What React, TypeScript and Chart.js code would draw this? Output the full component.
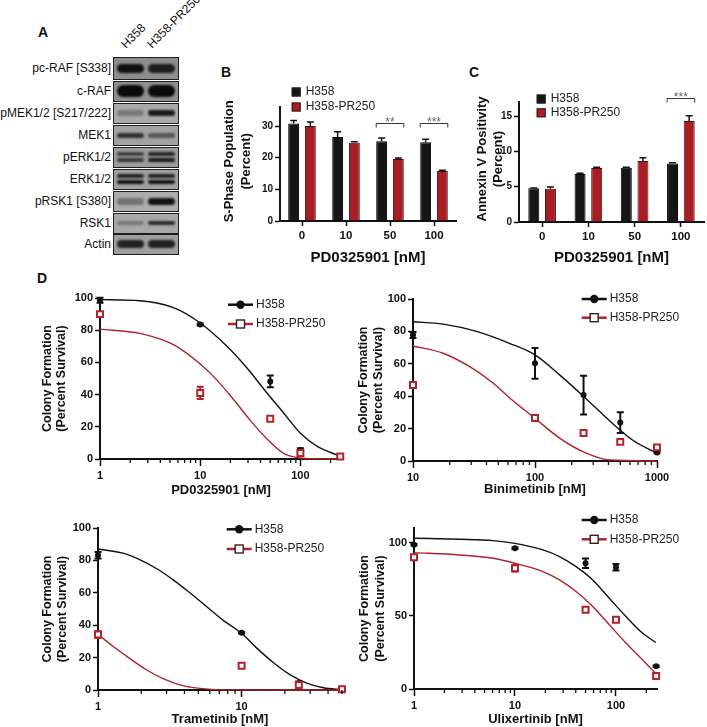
import React, { useEffect, useRef } from 'react';
import { Chart, registerables } from 'chart.js';

Chart.register(...registerables);

const FONT = '"Liberation Sans", Arial, Helvetica, sans-serif';
Chart.defaults.font.family = FONT;

// ================= DATA =================
const SERIES_NAMES = ['H358', 'H358-PR250'];

// Panel A – immunoblot, relative band intensity (0–1)
const blotTargets = ['pc-RAF [S338]', 'c-RAF', 'pMEK1/2 [S217/222]', 'MEK1', 'pERK1/2', 'ERK1/2', 'pRSK1 [S380]', 'RSK1', 'Actin'];
const blotH358 = [0.95, 1.0, 0.3, 0.75, 0.7, 0.95, 0.35, 0.3, 0.85];
const blotPR250 = [0.85, 1.0, 0.9, 0.5, 0.9, 0.95, 0.95, 0.8, 0.85];
const blotBandCount = [1, 1, 1, 1, 2, 2, 1, 1, 1];

// Panel B – S-phase population (%)
const doseLabels = ['0', '10', '50', '100'];
const sPhaseH358 = [30.8, 26.5, 25.2, 24.9];
const sPhaseH358Err = [0.9, 1.7, 1.0, 0.9];
const sPhasePR = [30.0, 24.7, 19.6, 15.8];
const sPhasePRErr = [1.3, 0.3, 0.3, 0.2];
const sPhaseSigIndex = [2, 3];
const sPhaseSigLevel = [31.1, 31.1];
const sPhaseSigText = ['**', '***'];

// Panel C – Annexin V positivity (%)
const annexinH358 = [4.77, 6.8, 7.7, 8.3];
const annexinH358Err = [0.05, 0.1, 0.05, 0.1];
const annexinPR = [4.7, 7.65, 8.65, 14.3];
const annexinPRErr = [0.25, 0.1, 0.45, 0.75];
const annexinSigIndex = [3];
const annexinSigLevel = [17.6];
const annexinSigText = ['***'];

// Panel D – colony formation (% survival)
const pdDoses = [1, 10, 50, 100, 250];
const pdH358 = [98.6, 83.5, 48.2, 5.6, 1.5];
const pdH358Err = [1.5, 0.6, 3.6, 1.0, 0.3];
const pdPR = [90, 41, 25, 3.7, 1.5];
const pdPRErr = [0.8, 3.8, 0.8, 1.5, 0.6];
const pdFitH358X = [1, 2.5, 5.4, 10, 18.5, 29.3, 46.4, 68, 100, 147, 250];
const pdFitH358Y = [99, 98.3, 94, 84.5, 70, 56.5, 41, 28.6, 16, 7.9, 1.7];
const pdFitPRX = [1, 2.5, 5.4, 10, 14.7, 21.5, 31.6, 46.4, 68, 100, 150, 250];
const pdFitPRY = [80.7, 78, 71, 59, 49, 37, 24, 12.5, 3.5, 0.6, 0.1, 0];
const pdTicks = [1, 2, 3, 4, 5, 6, 7, 8, 9, 10, 20, 30, 40, 50, 60, 70, 80, 90, 100, 200];
const pdTickLabels = [1, 10, 100];

const biniDoses = [10, 100, 250, 500, 1000];
const biniH358 = [77.8, 60.3, 40.7, 23.7, 5.3];
const biniH358Err = [1.8, 9.5, 12, 6.4, 0.5];
const biniPR = [46.9, 26.5, 17.3, 11.8, 8.4];
const biniPRErr = [0.5, 0.8, 1.3, 0.8, 1.0];
const biniFitH358X = [10, 17.7, 33.1, 62.4, 100, 160, 266, 413, 643, 1000];
const biniFitH358Y = [86, 84.5, 80, 72.5, 65.5, 53, 38, 24.5, 12.5, 4.8];
const biniFitPRX = [10, 17.7, 29.2, 45.5, 62.4, 100, 160, 266, 413, 1000];
const biniFitPRY = [71, 66.5, 58.2, 48, 38.7, 26.3, 14, 4.7, 0.6, 0];
const biniTicks = [10, 20, 30, 40, 50, 60, 70, 80, 90, 100, 200, 300, 400, 500, 600, 700, 800, 900, 1000];
const biniTickLabels = [10, 100, 1000];

const tramDoses = [1, 10, 25, 50];
const tramH358 = [83.2, 35.3, 4.2, 0.5];
const tramH358Err = [2, 0.5, 1, 0.2];
const tramPR = [34.3, 15, 3.1, 0.5];
const tramPRErr = [2, 0.5, 1.2, 0.3];
const tramFitH358X = [1, 1.49, 1.95, 2.55, 3.34, 4.36, 5.7, 7.45, 10, 12.7, 16.6, 21.7, 28.4, 37.1, 50];
const tramFitH358Y = [87, 84.5, 80.5, 75, 68, 60, 51.5, 43, 35, 26, 17, 9.5, 4.3, 1.4, 0.2];
const tramFitPRX = [1, 1.27, 1.66, 2.17, 2.84, 3.71, 5.12, 7.45, 20, 50];
const tramFitPRY = [34.3, 27, 19.5, 12.5, 7, 3.2, 1, 0.1, 0, 0];
const tramTicks = [1, 2, 3, 4, 5, 6, 7, 8, 9, 10, 20, 30, 40, 50];
const tramTickLabels = [1, 10];

const ulixDoses = [1, 10, 50, 100, 250];
const ulixH358 = [98.6, 96.1, 85.9, 83.2, 15.5];
const ulixH358Err = [0.5, 0.5, 3.3, 2.2, 0.5];
const ulixPR = [90, 82.5, 54.1, 47.3, 8.9];
const ulixPRErr = [0.8, 2.2, 0.6, 0.5, 0.5];
const ulixFitX = [1, 2.84, 6.07, 10, 18.9, 27.6, 40.3, 58.9, 86, 125.6, 183, 248];
const ulixFitH358Y = [103, 102.3, 101.4, 99.5, 95, 90.5, 83.6, 74.5, 62, 49.5, 38.2, 31.8];
const ulixFitPRY = [93.2, 91.6, 89.3, 85.9, 80.2, 74.5, 66.6, 56.4, 43.9, 31.4, 20, 10.5];
const ulixTicks = [1, 2, 3, 4, 5, 6, 7, 8, 9, 10, 20, 30, 40, 50, 60, 70, 80, 90, 100, 200];
const ulixTickLabels = [1, 10, 100];

// ================= STYLE / LAYOUT =================
const INK = '#111';
const RED = '#b0232a';
const BAR_BLACK = '#161616';
const BAR_RED = '#a81e24';

const BLOT_LEFT = 113;
const BLOT_W = 66;
const BLOT_TOPS = [57, 81, 103, 125, 147, 169, 191, 213, 234];
const BLOT_HS = [23, 21, 21, 21, 21, 21, 21, 21, 21];
const BLOT_BG = ['#8d8d8d', '#8f8f8f', '#a9a9a9', '#a2a2a2', '#9c9c9c', '#a0a0a0', '#acacac', '#a8a8a8', '#9f9f9f'];
const BAND_T = [9, 12, 6, 5, 4, 4, 7, 4, 8];

const GEO_B = { left: 221, top: 80, width: 239, height: 187, padTop: 27, padRight: 4, yWidth: 59, xHeight: 46 };
const GEO_C = { left: 474, top: 80, width: 233, height: 187, padTop: 22, padRight: 3, yWidth: 45, xHeight: 45 };
const GEO_D1 = { left: 40, top: 285, width: 310, height: 213, padTop: 13, padRight: 8, yWidth: 60, xHeight: 39 };
const GEO_D2 = { left: 356, top: 285, width: 351, height: 212, padTop: 14, padRight: 50, yWidth: 57, xHeight: 36 };
const GEO_D3 = { left: 40, top: 515, width: 312, height: 212, padTop: 13, padRight: 10, yWidth: 58, xHeight: 37 };
const GEO_D4 = { left: 357, top: 510, width: 350, height: 217, padTop: 18, padRight: 50, yWidth: 57, xHeight: 38 };

// ================= PLUGINS =================
const errorBarPlugin = {
  id: 'errorBars',
  beforeDatasetDraw(chart: any, args: any) {
    const ds = chart.data.datasets[args.index];
    if (!ds.errorValues || ds.errorStyle !== 'both') return;
    const ys = chart.scales.y;
    const ctx = chart.ctx;
    ctx.save();
    ctx.strokeStyle = ds.errorColor;
    ctx.lineWidth = 2;
    args.meta.data.forEach((pt: any, i: number) => {
      const e = ds.errorValues[i];
      if (!e) return;
      const v = ds.data[i].y;
      const y1 = ys.getPixelForValue(v + e);
      const y2 = ys.getPixelForValue(v - e);
      const x = pt.x;
      const cap = 3.5;
      ctx.beginPath();
      ctx.moveTo(x, y1); ctx.lineTo(x, y2);
      ctx.moveTo(x - cap, y1); ctx.lineTo(x + cap, y1);
      ctx.moveTo(x - cap, y2); ctx.lineTo(x + cap, y2);
      ctx.stroke();
    });
    ctx.restore();
  },
  afterDatasetDraw(chart: any, args: any) {
    const ds = chart.data.datasets[args.index];
    if (!ds.errorValues || ds.errorStyle !== 'up') return;
    const ys = chart.scales.y;
    const ctx = chart.ctx;
    ctx.save();
    ctx.strokeStyle = INK;
    ctx.lineWidth = 1.5;
    args.meta.data.forEach((bar: any, i: number) => {
      const e = ds.errorValues[i];
      if (!e) return;
      const v = ds.data[i];
      const y0 = ys.getPixelForValue(v);
      const y1 = ys.getPixelForValue(v + e);
      const cap = bar.width * 0.32;
      ctx.beginPath();
      ctx.moveTo(bar.x, y0); ctx.lineTo(bar.x, y1);
      ctx.moveTo(bar.x - cap, y1); ctx.lineTo(bar.x + cap, y1);
      ctx.stroke();
    });
    ctx.restore();
  },
};

function bracketPlugin(indices: number[], levels: number[], texts: string[]) {
  return {
    id: 'sigBrackets',
    afterDatasetsDraw(chart: any) {
      const ctx = chart.ctx;
      const ys = chart.scales.y;
      const m0 = chart.getDatasetMeta(0);
      const m1 = chart.getDatasetMeta(1);
      ctx.save();
      indices.forEach((idx, k) => {
        const b0 = m0.data[idx];
        const b1 = m1.data[idx];
        const xl = b0.x - b0.width / 2;
        const xr = b1.x + b1.width / 2;
        const y = Math.round(ys.getPixelForValue(levels[k])) + 0.5;
        ctx.strokeStyle = '#333';
        ctx.lineWidth = 1;
        ctx.beginPath();
        ctx.moveTo(xl, y + 4); ctx.lineTo(xl, y); ctx.lineTo(xr, y); ctx.lineTo(xr, y + 4);
        ctx.stroke();
        ctx.fillStyle = '#666';
        ctx.font = `12px ${FONT}`;
        ctx.textAlign = 'center';
        ctx.textBaseline = 'alphabetic';
        ctx.fillText(texts[k], (xl + xr) / 2, y + 2);
      });
      ctx.restore();
    },
  };
}

function legendPlugin(items: any[]) {
  return {
    id: 'seriesLegend',
    afterDraw(chart: any) {
      const { ctx, chartArea } = chart;
      ctx.save();
      items.forEach((it) => {
        const x = chartArea.left + it.dx;
        const y = chartArea.top + it.dy;
        let tx = x;
        if (it.kind === 'box') {
          ctx.fillStyle = it.color;
          ctx.fillRect(x, y - 4.5, 9, 9);
          ctx.strokeStyle = '#222';
          ctx.lineWidth = 1;
          ctx.strokeRect(x + 0.5, y - 4, 8, 8);
          tx = x + 14;
        } else {
          ctx.strokeStyle = it.color;
          ctx.lineWidth = 2.5;
          ctx.beginPath();
          ctx.moveTo(x, y); ctx.lineTo(x + 25, y);
          ctx.stroke();
          const mx = x + 12.5;
          if (it.marker === 'circle') {
            ctx.fillStyle = INK;
            ctx.beginPath();
            ctx.arc(mx, y, 4.2, 0, Math.PI * 2);
            ctx.fill();
          } else {
            ctx.fillStyle = '#fff';
            ctx.fillRect(mx - 4, y - 4, 8, 8);
            ctx.strokeStyle = '#3a1c1c';
            ctx.lineWidth = 1.4;
            ctx.strokeRect(mx - 4, y - 4, 8, 8);
          }
          tx = x + 28;
        }
        ctx.fillStyle = '#222';
        ctx.font = `12px ${FONT}`;
        ctx.textAlign = 'left';
        ctx.textBaseline = 'middle';
        ctx.fillText(it.label, tx, y);
      });
      ctx.restore();
    },
  };
}

function yTitlePlugin(lines: string[], size: number, lh: number, shift: number) {
  return {
    id: 'yTitle',
    afterDraw(chart: any) {
      const s = chart.scales.y;
      const { ctx, chartArea } = chart;
      const cy = (chartArea.top + chartArea.bottom) / 2 + shift;
      ctx.save();
      ctx.fillStyle = INK;
      ctx.font = `bold ${size}px ${FONT}`;
      ctx.textAlign = 'center';
      ctx.textBaseline = 'middle';
      lines.forEach((ln, i) => {
        ctx.save();
        ctx.translate(s.left + lh / 2 + i * lh, cy);
        ctx.rotate(-Math.PI / 2);
        ctx.fillText(ln, 0, 0);
        ctx.restore();
      });
      ctx.restore();
    },
  };
}

function minorTickPlugin(values: number[], labeled: number[], len: number) {
  return {
    id: 'minorTicks',
    afterDraw(chart: any) {
      const s = chart.scales.x;
      const ctx = chart.ctx;
      const y0 = chart.chartArea.bottom;
      ctx.save();
      ctx.strokeStyle = INK;
      ctx.lineWidth = 1.3;
      values.forEach((v) => {
        if (labeled.includes(v)) return;
        const px = s.getPixelForValue(v);
        ctx.beginPath();
        ctx.moveTo(px, y0); ctx.lineTo(px, y0 + len);
        ctx.stroke();
      });
      ctx.restore();
    },
  };
}

// ================= SCALES =================
function yAxis(width: number, max: number, step: number, tickSize: number) {
  return {
    type: 'linear',
    position: 'left',
    min: 0,
    max,
    afterFit: (s: any) => { s.width = width; s.paddingTop = 0; s.paddingBottom = 0; },
    ticks: { stepSize: step, includeBounds: false, color: INK, padding: 2, font: { family: FONT, size: tickSize, weight: 'bold' } },
    grid: { drawOnChartArea: false, drawTicks: true, tickLength: 5, tickColor: INK, tickWidth: 1.5 },
    border: { display: true, color: INK, width: 2 },
    title: { display: false },
  };
}

function xCategoryAxis(height: number, title: string, titleSize: number) {
  return {
    type: 'category',
    position: 'bottom',
    offset: true,
    afterFit: (s: any) => { s.height = height; s.paddingLeft = 0; s.paddingRight = 0; },
    ticks: { color: INK, padding: 3, maxRotation: 0, autoSkip: false, font: { family: FONT, size: 11.5, weight: 'bold' } },
    grid: { offset: false, drawOnChartArea: false, drawTicks: true, tickLength: 5, tickColor: INK, tickWidth: 1.5 },
    border: { display: true, color: INK, width: 2 },
    title: { display: true, text: title, color: INK, padding: 0, font: { family: FONT, size: titleSize, weight: 'bold' } },
  };
}

function xLogAxis(height: number, min: number, max: number, tickValues: number[], labeled: number[], title: string) {
  return {
    type: 'logarithmic',
    position: 'bottom',
    min,
    max,
    afterBuildTicks: (s: any) => { s.ticks = tickValues.map((v) => ({ value: v })); },
    afterFit: (s: any) => { s.height = height; s.paddingLeft = 0; s.paddingRight = 0; },
    ticks: {
      autoSkip: false,
      maxRotation: 0,
      color: INK,
      padding: 3,
      font: { family: FONT, size: 11, weight: 'bold' },
      callback: (v: any) => (labeled.includes(Number(v)) ? String(v) : ''),
    },
    grid: {
      drawOnChartArea: false,
      drawTicks: true,
      tickLength: 7,
      tickWidth: 1.5,
      tickColor: (c: any) => (c.tick && labeled.includes(c.tick.value) ? INK : 'rgba(0,0,0,0)'),
    },
    border: { display: true, color: INK, width: 2 },
    title: { display: true, text: title, color: INK, padding: 0, font: { family: FONT, size: 13, weight: 'bold' } },
  };
}

// ================= CHART CONFIGS =================
function barConfig(geo: any, h358: number[], h358Err: number[], pr: number[], prErr: number[], yMax: number, yStep: number,
  yTitle: string[], yTitleLH: number, yShift: number, cp: number, bp: number,
  sigIdx: number[], sigLvl: number[], sigTxt: string[], legendDx: number, legendDy: number[]) {
  return {
    type: 'bar',
    data: {
      labels: doseLabels,
      datasets: [
        { label: SERIES_NAMES[0], data: h358, backgroundColor: BAR_BLACK, borderColor: '#000', borderWidth: 1, errorValues: h358Err, errorStyle: 'up' },
        { label: SERIES_NAMES[1], data: pr, backgroundColor: BAR_RED, borderColor: '#4a0c0e', borderWidth: 1, errorValues: prErr, errorStyle: 'up' },
      ],
    },
    options: {
      responsive: false,
      animation: false,
      devicePixelRatio: 1,
      layout: { padding: { left: 0, top: geo.padTop, right: geo.padRight, bottom: 0 } },
      datasets: { bar: { categoryPercentage: cp, barPercentage: bp } },
      plugins: { legend: { display: false }, tooltip: { enabled: false } },
      scales: {
        x: xCategoryAxis(geo.xHeight, 'PD0325901 [nM]', 15),
        y: yAxis(geo.yWidth, yMax, yStep, 10),
      },
    },
    plugins: [
      errorBarPlugin,
      bracketPlugin(sigIdx, sigLvl, sigTxt),
      legendPlugin([
        { kind: 'box', label: SERIES_NAMES[0], color: BAR_BLACK, dx: legendDx, dy: legendDy[0] },
        { kind: 'box', label: SERIES_NAMES[1], color: BAR_RED, dx: legendDx, dy: legendDy[1] },
      ]),
      yTitlePlugin(yTitle, 13, yTitleLH, yShift),
    ],
  };
}

function pts(xs: number[], ys: number[]) {
  return xs.map((x, i) => ({ x, y: ys[i] }));
}

function doseConfig(geo: any, p: any) {
  return {
    type: 'line',
    data: {
      datasets: [
        {
          label: SERIES_NAMES[1], data: pts(p.doses, p.pr), showLine: false, pointStyle: 'rect', pointRadius: 4.2,
          pointBorderWidth: 2, pointBackgroundColor: '#fff', pointBorderColor: RED, borderColor: RED,
          errorValues: p.prErr, errorStyle: 'both', errorColor: RED, clip: false,
        },
        {
          label: SERIES_NAMES[0], data: pts(p.doses, p.h358), showLine: false, pointStyle: 'circle', pointRadius: 3,
          pointBorderWidth: 0, pointBackgroundColor: INK, pointBorderColor: INK, borderColor: INK,
          errorValues: p.h358Err, errorStyle: 'both', errorColor: INK, clip: false,
        },
        {
          label: SERIES_NAMES[1] + ' fit', data: pts(p.fitPX, p.fitPY), borderColor: RED, borderWidth: 1.4,
          pointRadius: 0, cubicInterpolationMode: 'monotone', fill: false, clip: false,
        },
        {
          label: SERIES_NAMES[0] + ' fit', data: pts(p.fitHX, p.fitHY), borderColor: INK, borderWidth: 1.4,
          pointRadius: 0, cubicInterpolationMode: 'monotone', fill: false, clip: false,
        },
      ],
    },
    options: {
      responsive: false,
      animation: false,
      devicePixelRatio: 1,
      layout: { padding: { left: 0, top: geo.padTop, right: geo.padRight, bottom: 0 } },
      plugins: { legend: { display: false }, tooltip: { enabled: false } },
      scales: {
        x: xLogAxis(geo.xHeight, p.xMin, p.xMax, p.ticks, p.labels, p.xTitle),
        y: yAxis(geo.yWidth, p.yMax, p.yStep, 11),
      },
    },
    plugins: [
      errorBarPlugin,
      minorTickPlugin(p.ticks, p.labels, 4),
      yTitlePlugin(['Colony Formation', '(Percent Survival)'], 12.5, p.yLH, 0),
      legendPlugin([
        { kind: 'line', marker: 'circle', label: SERIES_NAMES[0], color: INK, dx: p.legendDx, dy: p.legendDy[0] },
        { kind: 'line', marker: 'square', label: SERIES_NAMES[1], color: RED, dx: p.legendDx, dy: p.legendDy[1] },
      ]),
    ],
  };
}

// ================= COMPONENTS =================
function ChartBox({ geo, make }: any) {
  const ref = useRef<HTMLCanvasElement | null>(null);
  useEffect(() => {
    if (!ref.current) return;
    const chart = new Chart(ref.current, make() as any);
    return () => chart.destroy();
  }, []);
  return (
    <canvas
      ref={ref}
      width={geo.width}
      height={geo.height}
      style={{ position: 'absolute', left: geo.left, top: geo.top, width: geo.width, height: geo.height }}
    />
  );
}

function PanelLabel({ text, left, top }: any) {
  return (
    <div style={{ position: 'absolute', left, top, fontSize: 14, lineHeight: '16px', fontWeight: 'bold', color: INK }}>{text}</div>
  );
}

function Band({ cx, cy, w, h, a }: any) {
  return (
    <div
      style={{
        position: 'absolute', left: cx - w / 2, top: cy - h / 2, width: w, height: h, borderRadius: h / 2,
        background: `rgba(10,10,10,${a})`, filter: 'blur(0.9px)',
      }}
    />
  );
}

function Blot() {
  const laneCenters = [16, 47];
  return (
    <>
      <div style={{ position: 'absolute', left: 128, top: 37, fontSize: 12, lineHeight: '14px', color: INK, whiteSpace: 'nowrap', transform: 'rotate(-45deg)', transformOrigin: '0 100%' }}>{SERIES_NAMES[0]}</div>
      <div style={{ position: 'absolute', left: 154, top: 37, fontSize: 12, lineHeight: '14px', color: INK, whiteSpace: 'nowrap', transform: 'rotate(-45deg)', transformOrigin: '0 100%' }}>{SERIES_NAMES[1]}</div>
      {blotTargets.map((lab, i) => {
        const h = BLOT_HS[i];
        const inner = h - 3;
        const vals = [blotH358[i], blotPR250[i]];
        return (
          <React.Fragment key={lab}>
            <div style={{ position: 'absolute', right: 707 - 111, top: BLOT_TOPS[i], height: h, lineHeight: `${h}px`, fontSize: 12, color: INK, whiteSpace: 'nowrap' }}>{lab}</div>
            <div style={{ position: 'absolute', left: BLOT_LEFT, top: BLOT_TOPS[i], width: BLOT_W, height: h, boxSizing: 'border-box', border: '1.5px solid #1e1e1e', background: BLOT_BG[i], overflow: 'hidden' }}>
              {laneCenters.map((cx, L) =>
                blotBandCount[i] === 2 ? (
                  <React.Fragment key={L}>
                    <Band cx={cx} cy={inner / 2 - 3} w={27} h={BAND_T[i]} a={vals[L] * 0.9} />
                    <Band cx={cx} cy={inner / 2 + 3} w={27} h={BAND_T[i]} a={vals[L]} />
                  </React.Fragment>
                ) : (
                  <Band key={L} cx={cx} cy={inner / 2} w={27} h={BAND_T[i]} a={vals[L]} />
                )
              )}
            </div>
          </React.Fragment>
        );
      })}
    </>
  );
}

export default function App() {
  return (
    <div style={{ position: 'absolute', left: 0, top: 0, width: 707, height: 727, background: '#fff', overflow: 'hidden', fontFamily: FONT }}>
      <PanelLabel text="A" left={38} top={24} />
      <PanelLabel text="B" left={221} top={64} />
      <PanelLabel text="C" left={469} top={64} />
      <PanelLabel text="D" left={37} top={270} />
      <Blot />
      <ChartBox
        geo={GEO_B}
        make={() => barConfig(GEO_B, sPhaseH358, sPhaseH358Err, sPhasePR, sPhasePRErr, 36, 10,
          ['S-Phase Population', '(Percent)'], 16.7, -2.7, 0.76, 0.65,
          sPhaseSigIndex, sPhaseSigLevel, sPhaseSigText, 11.7, [-15, 0])}
      />
      <ChartBox
        geo={GEO_C}
        make={() => barConfig(GEO_C, annexinH358, annexinH358Err, annexinPR, annexinPRErr, 17, 5,
          ['Annexin V Positivity', '(Percent)'], 16, -3, 0.72, 0.66,
          annexinSigIndex, annexinSigLevel, annexinSigText, 17.7, [-3, 10.8])}
      />
      <ChartBox
        geo={GEO_D1}
        make={() => doseConfig(GEO_D1, {
          doses: pdDoses, h358: pdH358, h358Err: pdH358Err, pr: pdPR, prErr: pdPRErr,
          fitHX: pdFitH358X, fitHY: pdFitH358Y, fitPX: pdFitPRX, fitPY: pdFitPRY,
          xMin: 1, xMax: 260, ticks: pdTicks, labels: pdTickLabels, xTitle: 'PD0325901 [nM]',
          yMax: 100, yStep: 20, yLH: 14.4, legendDx: 128, legendDy: [6.7, 26],
        })}
      />
      <ChartBox
        geo={GEO_D2}
        make={() => doseConfig(GEO_D2, {
          doses: biniDoses, h358: biniH358, h358Err: biniH358Err, pr: biniPR, prErr: biniPRErr,
          fitHX: biniFitH358X, fitHY: biniFitH358Y, fitPX: biniFitPRX, fitPY: biniFitPRY,
          xMin: 10, xMax: 1000, ticks: biniTicks, labels: biniTickLabels, xTitle: 'Binimetinib [nM]',
          yMax: 100, yStep: 20, yLH: 15, legendDx: 168.7, legendDy: [0, 18.7],
        })}
      />
      <ChartBox
        geo={GEO_D3}
        make={() => doseConfig(GEO_D3, {
          doses: tramDoses, h358: tramH358, h358Err: tramH358Err, pr: tramPR, prErr: tramPRErr,
          fitHX: tramFitH358X, fitHY: tramFitH358Y, fitPX: tramFitPRX, fitPY: tramFitPRY,
          xMin: 1, xMax: 50, ticks: tramTicks, labels: tramTickLabels, xTitle: 'Trametinib [nM]',
          yMax: 100, yStep: 20, yLH: 15, legendDx: 128.7, legendDy: [1.3, 21],
        })}
      />
      <ChartBox
        geo={GEO_D4}
        make={() => doseConfig(GEO_D4, {
          doses: ulixDoses, h358: ulixH358, h358Err: ulixH358Err, pr: ulixPR, prErr: ulixPRErr,
          fitHX: ulixFitX, fitHY: ulixFitH358Y, fitPX: ulixFitX, fitPY: ulixFitPRY,
          xMin: 1, xMax: 255, ticks: ulixTicks, labels: ulixTickLabels, xTitle: 'Ulixertinib [nM]',
          yMax: 110, yStep: 50, yLH: 15.5, legendDx: 167.7, legendDy: [-8, 11.3],
        })}
      />
    </div>
  );
}
